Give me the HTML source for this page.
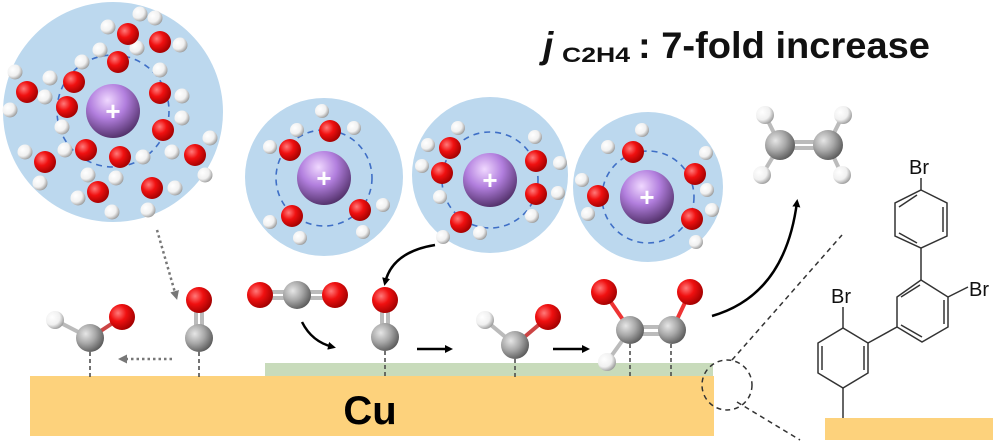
<!DOCTYPE html>
<html><head><meta charset="utf-8"><style>
html,body{margin:0;padding:0;background:#fff;}
svg{display:block;}
</style></head><body>
<svg width="995" height="441" viewBox="0 0 995 441" xmlns="http://www.w3.org/2000/svg">
<defs>
<radialGradient id="r" cx="35%" cy="35%" r="70%"><stop offset="0" stop-color="#ff7a7a"/><stop offset="0.45" stop-color="#f01010"/><stop offset="1" stop-color="#a00000"/></radialGradient>
<radialGradient id="w" cx="35%" cy="35%" r="70%"><stop offset="0" stop-color="#ffffff"/><stop offset="0.6" stop-color="#f0f0f0"/><stop offset="1" stop-color="#9a9a9a"/></radialGradient>
<radialGradient id="g" cx="35%" cy="35%" r="70%"><stop offset="0" stop-color="#e6e6e6"/><stop offset="0.5" stop-color="#a8a8a8"/><stop offset="1" stop-color="#5a5a5a"/></radialGradient>
<radialGradient id="p" cx="40%" cy="30%" r="75%"><stop offset="0" stop-color="#f0d8ff"/><stop offset="0.45" stop-color="#b27fde"/><stop offset="1" stop-color="#4a2a60"/></radialGradient>
<marker id="ah" markerWidth="8" markerHeight="8" refX="5" refY="4" orient="auto" markerUnits="userSpaceOnUse"><path d="M0,0 L8,4 L0,8 Z" fill="#000"/></marker>
<marker id="ag" markerWidth="9" markerHeight="9" refX="5" refY="4.5" orient="auto" markerUnits="userSpaceOnUse"><path d="M0,0 L9,4.5 L0,9 Z" fill="#777"/></marker>
</defs>

<!-- Cu slabs -->
<rect x="30" y="376" width="684" height="60" fill="#fdd27c"/>
<rect x="265" y="363" width="448" height="13" fill="#c8dbbb"/>
<text x="370" y="424" font-family="Liberation Sans, sans-serif" font-weight="bold" font-size="40" text-anchor="middle">Cu</text>
<rect x="825" y="418" width="168" height="22" fill="#fdd27c"/>

<!-- hydration circles -->
<circle cx="113" cy="112" r="110" fill="#bcd8ee"/>
<circle cx="324" cy="177" r="79" fill="#bcd8ee"/>
<circle cx="490" cy="175" r="78" fill="#bcd8ee"/>
<circle cx="648" cy="187" r="75" fill="#bcd8ee"/>
<g fill="none" stroke="#3f6fc6" stroke-width="1.6" stroke-dasharray="6,5">
<circle cx="113" cy="111" r="56"/>
<circle cx="324" cy="178" r="48"/>
<circle cx="490" cy="180" r="48"/>
<circle cx="648" cy="197" r="46"/>
</g>
<g>
<circle cx="113" cy="111" r="27" fill="url(#p)"/>
<circle cx="324" cy="178" r="27" fill="url(#p)"/>
<circle cx="490" cy="180" r="27" fill="url(#p)"/>
<circle cx="647" cy="197" r="27" fill="url(#p)"/>
</g>
<g font-family="Liberation Sans, sans-serif" font-weight="bold" font-size="26" fill="#fff" text-anchor="middle">
<text x="113" y="120">+</text><text x="324" y="187">+</text><text x="490" y="189">+</text><text x="647" y="206">+</text>
</g>

<!-- waters -->
<g fill="url(#w)">
<circle cx="108" cy="27" r="7.5"/><circle cx="140" cy="14" r="7.5"/>
<circle cx="155" cy="18" r="7.5"/><circle cx="180" cy="45" r="7.5"/>
<circle cx="100" cy="50" r="7.5"/><circle cx="137" cy="48" r="7.5"/>
<circle cx="50" cy="78" r="7.5"/><circle cx="82" cy="62" r="7.5"/>
<circle cx="15" cy="72" r="7.5"/><circle cx="10" cy="110" r="7.5"/>
<circle cx="45" cy="97" r="7.5"/><circle cx="62" cy="127" r="7.5"/>
<circle cx="160" cy="70" r="7.5"/><circle cx="182" cy="96" r="7.5"/>
<circle cx="182" cy="118" r="7.5"/><circle cx="172" cy="152" r="7.5"/>
<circle cx="65" cy="150" r="7.5"/><circle cx="88" cy="175" r="7.5"/>
<circle cx="143" cy="157" r="7.5"/><circle cx="116" cy="178" r="7.5"/>
<circle cx="210" cy="138" r="7.5"/><circle cx="205" cy="175" r="7.5"/>
<circle cx="25" cy="152" r="7.5"/><circle cx="40" cy="183" r="7.5"/>
<circle cx="78" cy="198" r="7.5"/><circle cx="112" cy="212" r="7.5"/>
<circle cx="175" cy="188" r="7.5"/><circle cx="148" cy="210" r="7.5"/>

<circle cx="270" cy="147" r="7"/><circle cx="297" cy="130" r="7"/>
<circle cx="322" cy="111" r="7"/><circle cx="354" cy="128" r="7"/>
<circle cx="270" cy="222" r="7"/><circle cx="300" cy="238" r="7"/>
<circle cx="383" cy="205" r="7"/><circle cx="363" cy="232" r="7"/>

<circle cx="428" cy="145" r="7"/><circle cx="458" cy="128" r="7"/>
<circle cx="422" cy="166" r="7"/><circle cx="440" cy="197" r="7"/>
<circle cx="443" cy="237" r="7"/><circle cx="480" cy="233" r="7"/>
<circle cx="535" cy="137" r="7"/><circle cx="560" cy="163" r="7"/>
<circle cx="558" cy="193" r="7"/><circle cx="532" cy="216" r="7"/>

<circle cx="608" cy="147" r="7"/><circle cx="642" cy="130" r="7"/>
<circle cx="582" cy="180" r="7"/><circle cx="588" cy="214" r="7"/>
<circle cx="706" cy="153" r="7"/><circle cx="707" cy="190" r="7"/>
<circle cx="712" cy="210" r="7"/><circle cx="696" cy="242" r="7"/>
</g>
<g fill="url(#r)">
<circle cx="128" cy="34" r="11"/><circle cx="160" cy="42" r="11"/><circle cx="118" cy="62" r="11"/>
<circle cx="74" cy="82" r="11"/><circle cx="27" cy="92" r="11"/><circle cx="67" cy="107" r="11"/>
<circle cx="160" cy="93" r="11"/><circle cx="163" cy="130" r="11"/><circle cx="86" cy="150" r="11"/>
<circle cx="120" cy="157" r="11"/><circle cx="195" cy="155" r="11"/><circle cx="45" cy="162" r="11"/>
<circle cx="98" cy="192" r="11"/><circle cx="152" cy="188" r="11"/>
<circle cx="290" cy="150" r="11"/><circle cx="330" cy="131" r="11"/><circle cx="292" cy="216" r="11"/><circle cx="360" cy="210" r="11"/>
<circle cx="450" cy="148" r="11"/><circle cx="442" cy="173" r="11"/><circle cx="461" cy="222" r="11"/><circle cx="536" cy="161" r="11"/><circle cx="536" cy="194" r="11"/>
<circle cx="633" cy="152" r="11"/><circle cx="598" cy="196" r="11"/><circle cx="695" cy="174" r="11"/><circle cx="692" cy="219" r="11"/>
</g>

<!-- title -->
<g font-family="Liberation Sans, sans-serif" font-weight="bold" fill="#111">
<text x="543" y="58" font-size="37" font-style="italic">j</text>
<text x="562" y="62" font-size="21" textLength="68" lengthAdjust="spacingAndGlyphs">C2H4</text>
<text x="638" y="58" font-size="37" textLength="292" lengthAdjust="spacingAndGlyphs">: 7-fold increase</text>
</g>

<!-- dashed surface bonds -->
<g stroke="#444" stroke-width="1.5" stroke-dasharray="4,3">
<line x1="90" y1="352" x2="90" y2="377"/>
<line x1="199" y1="352" x2="199" y2="377"/>
<line x1="385" y1="351" x2="385" y2="377"/>
<line x1="515" y1="359" x2="515" y2="377"/>
<line x1="630" y1="344" x2="630" y2="377"/>
<line x1="671" y1="344" x2="671" y2="377"/>
</g>

<!-- bottom molecules -->
<g stroke="#bbb" stroke-width="4">
<line x1="55" y1="320" x2="90" y2="338"/><line x1="90" y1="338" x2="122" y2="317" stroke="#c44"/>
<line x1="196" y1="300" x2="196" y2="338"/><line x1="202" y1="300" x2="202" y2="338"/>
<line x1="260" y1="292" x2="335" y2="292"/><line x1="260" y1="298" x2="335" y2="298"/>
<line x1="382" y1="300" x2="382" y2="337"/><line x1="388" y1="300" x2="388" y2="337"/>
<line x1="485" y1="320" x2="515" y2="345"/><line x1="515" y1="345" x2="548" y2="317" stroke="#c44"/>
<line x1="630" y1="327" x2="672" y2="327"/><line x1="630" y1="334" x2="672" y2="334"/>
<line x1="604" y1="292" x2="630" y2="330" stroke="#e33"/><line x1="690" y1="292" x2="672" y2="330" stroke="#e33"/>
<line x1="607" y1="362" x2="630" y2="330"/>
</g>
<g>
<circle cx="55" cy="320" r="9" fill="url(#w)"/><circle cx="90" cy="338" r="14" fill="url(#g)"/><circle cx="122" cy="317" r="13" fill="url(#r)"/>
<circle cx="199" cy="300" r="13" fill="url(#r)"/><circle cx="199" cy="338" r="14" fill="url(#g)"/>
<circle cx="260" cy="295" r="13" fill="url(#r)"/><circle cx="297" cy="295" r="14" fill="url(#g)"/><circle cx="335" cy="295" r="13" fill="url(#r)"/>
<circle cx="385" cy="300" r="13" fill="url(#r)"/><circle cx="385" cy="337" r="14" fill="url(#g)"/>
<circle cx="485" cy="320" r="9" fill="url(#w)"/><circle cx="515" cy="345" r="14" fill="url(#g)"/><circle cx="548" cy="317" r="13" fill="url(#r)"/>
<circle cx="604" cy="292" r="13" fill="url(#r)"/><circle cx="690" cy="292" r="13" fill="url(#r)"/>
<circle cx="630" cy="330" r="14" fill="url(#g)"/><circle cx="672" cy="330" r="14" fill="url(#g)"/>
<circle cx="607" cy="362" r="9" fill="url(#w)"/>
</g>

<!-- ethylene -->
<g stroke="#bbb" stroke-width="4">
<line x1="780" y1="142" x2="828" y2="142"/><line x1="780" y1="148" x2="828" y2="148"/>
<line x1="765" y1="115" x2="780" y2="145"/><line x1="843" y1="115" x2="828" y2="145"/>
<line x1="762" y1="175" x2="780" y2="145"/><line x1="842" y1="175" x2="828" y2="145"/>
</g>
<circle cx="765" cy="115" r="9" fill="url(#w)"/><circle cx="843" cy="115" r="9" fill="url(#w)"/>
<circle cx="762" cy="175" r="9" fill="url(#w)"/><circle cx="842" cy="175" r="9" fill="url(#w)"/>
<circle cx="780" cy="145" r="15" fill="url(#g)"/><circle cx="828" cy="145" r="15" fill="url(#g)"/>

<!-- arrows -->
<g fill="none" stroke="#000" stroke-width="2.5">
<path d="M302,322 Q312,342 333,347" marker-end="url(#ah)"/>
<path d="M435,245 Q392,252 385,283" marker-end="url(#ah)"/>
<line x1="417" y1="349" x2="450" y2="349" marker-end="url(#ah)"/>
<line x1="553" y1="349" x2="587" y2="349" marker-end="url(#ah)"/>
<path d="M712,316 Q785,295 797,202" marker-end="url(#ah)"/>
</g>
<g fill="none" stroke="#777" stroke-width="2.5" stroke-dasharray="2.5,3">
<path d="M157,230 L176,296" marker-end="url(#ag)"/>
<line x1="172" y1="359" x2="122" y2="359" marker-end="url(#ag)"/>
</g>

<!-- zoom indicator -->
<g fill="none" stroke="#333" stroke-width="1.5" stroke-dasharray="5,4">
<circle cx="727" cy="385" r="25"/>
<line x1="732" y1="360" x2="842" y2="235"/>
<line x1="737" y1="402" x2="800" y2="440"/>
</g>

<!-- Br structure -->
<g fill="none" stroke="#333" stroke-width="1.5">
<polygon points="921,190 947,203 947,236 921,248 895,236 895,203"/>
<line x1="943" y1="207" x2="943" y2="232"/><line x1="917" y1="243" x2="899" y2="233" /><line x1="899" y1="207" x2="917" y2="195"/>
<line x1="921" y1="190" x2="921" y2="178"/>
<line x1="921" y1="248" x2="921" y2="280"/>
<polygon points="921,280 948,297 948,327 922,342 897,327 897,297"/>
<line x1="920" y1="285" x2="901" y2="297"/><line x1="944" y1="300" x2="944" y2="324"/><line x1="922" y1="337" x2="901" y2="325"/>
<line x1="948" y1="297" x2="968" y2="287"/>
<line x1="897" y1="327" x2="868" y2="343"/>
<polygon points="868,343 868,373 843,388 818,373 818,343 843,328"/>
<line x1="864" y1="346" x2="864" y2="370"/><line x1="822" y1="346" x2="822" y2="370"/>
<line x1="843" y1="328" x2="843" y2="307"/>
<line x1="843" y1="388" x2="843" y2="418"/>
</g>
<g font-family="Liberation Sans, sans-serif" font-size="20" fill="#111">
<text x="909" y="174">Br</text>
<text x="969" y="296">Br</text>
<text x="831" y="303">Br</text>
</g>
</svg>
</body></html>
